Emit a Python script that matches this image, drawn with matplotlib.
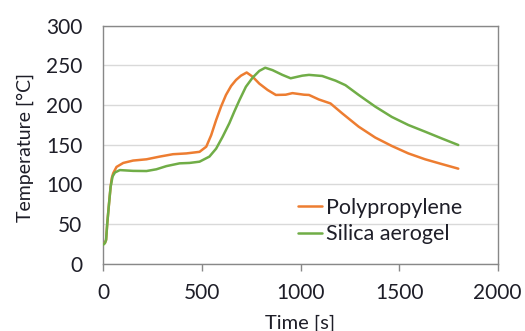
import matplotlib
matplotlib.use("Agg")
import matplotlib.pyplot as plt

# Data
pp_time = [0, 8, 14, 20, 29, 37, 43, 50, 67, 101, 151, 219, 286, 353, 421, 488,
           522, 547, 572, 597, 622, 648, 673, 698, 727, 757, 791, 833, 875, 925,
           959, 1018, 1043, 1093, 1152, 1211, 1295, 1379, 1463, 1547, 1632, 1715, 1800]
pp_temp = [25, 26, 30, 51, 76, 97, 108, 114, 122, 127, 130, 131.6, 135, 138, 139, 141,
           147.5, 162, 181, 198, 212.7, 224, 231.6, 237, 241, 235.7, 227, 219, 212.7, 213,
           215, 213, 212.7, 207, 202, 189.6, 172.7, 159, 148.4, 139, 131.6, 125.7, 119.8]

sa_time = [0, 8, 14, 20, 29, 37, 47, 59, 84, 151, 219, 269, 320, 387, 437, 488,
           538, 572, 605, 639, 664, 690, 723, 757, 791, 821, 858, 908, 950,
           1009, 1043, 1110, 1178, 1228, 1295, 1379, 1463, 1547, 1632, 1715, 1800]
sa_temp = [24, 26, 30, 51, 76, 97, 110, 115, 118, 117, 116.8, 119, 123, 126.5, 127, 128.6,
           135, 145, 160, 177, 191.6, 206, 223, 234.5, 243, 247, 244, 238, 233.7,
           237, 238, 236.6, 230.7, 225, 212.7, 198, 185, 174.8, 166.4, 158, 149.6]

series_names = ["Polypropylene", "Silica aerogel"]
x_ticks = [0, 500, 1000, 1500, 2000]
y_ticks = [0, 50, 100, 150, 200, 250, 300]

plt.rcParams['font.family'] = ['Lato', 'DejaVu Sans']
text_color = '#1e1e28'

fig = plt.figure(figsize=(5.25, 3.31), dpi=100)
ax = fig.add_axes([0.1968, 0.2033, 0.948 - 0.1968, 0.9224 - 0.2033])

ax.plot(pp_time, pp_temp, color='#ED7D31', lw=1.8, label=series_names[0], zorder=3,
        solid_joinstyle='round', solid_capstyle='round')
ax.plot(sa_time, sa_temp, color='#70AD47', lw=1.8, label=series_names[1], zorder=3,
        solid_joinstyle='round', solid_capstyle='round')

ax.set_xlim(0, 2000)
ax.set_ylim(0, 300)
ax.set_xticks(x_ticks)
ax.set_yticks(y_ticks)
ax.yaxis.grid(True, color='#d9d9d9', lw=1.0)
ax.set_axisbelow(True)

for s in ax.spines.values():
    s.set_color('#888888')
    s.set_linewidth(1.0)

ax.tick_params(axis='x', direction='out', length=5, width=1.0, color='#888888',
               labelsize=15, labelcolor=text_color, pad=9)
ax.tick_params(axis='y', length=0, labelsize=15, labelcolor=text_color, pad=15)

ax.set_xlabel('Time [s]', fontsize=14.5, color=text_color, labelpad=8)
ax.set_ylabel('Temperature [°C]', fontsize=14, color=text_color)
ax.yaxis.set_label_coords(-0.176, 0.49)

leg = ax.legend(loc='center left', bbox_to_anchor=(0.494, 0.18), frameon=False,
                fontsize=15.5, handlelength=1.1, handletextpad=0.2, borderpad=0,
                borderaxespad=0, labelspacing=0.3)
for t in leg.get_texts():
    t.set_color(text_color)

fig.savefig('out.png', dpi=100)
